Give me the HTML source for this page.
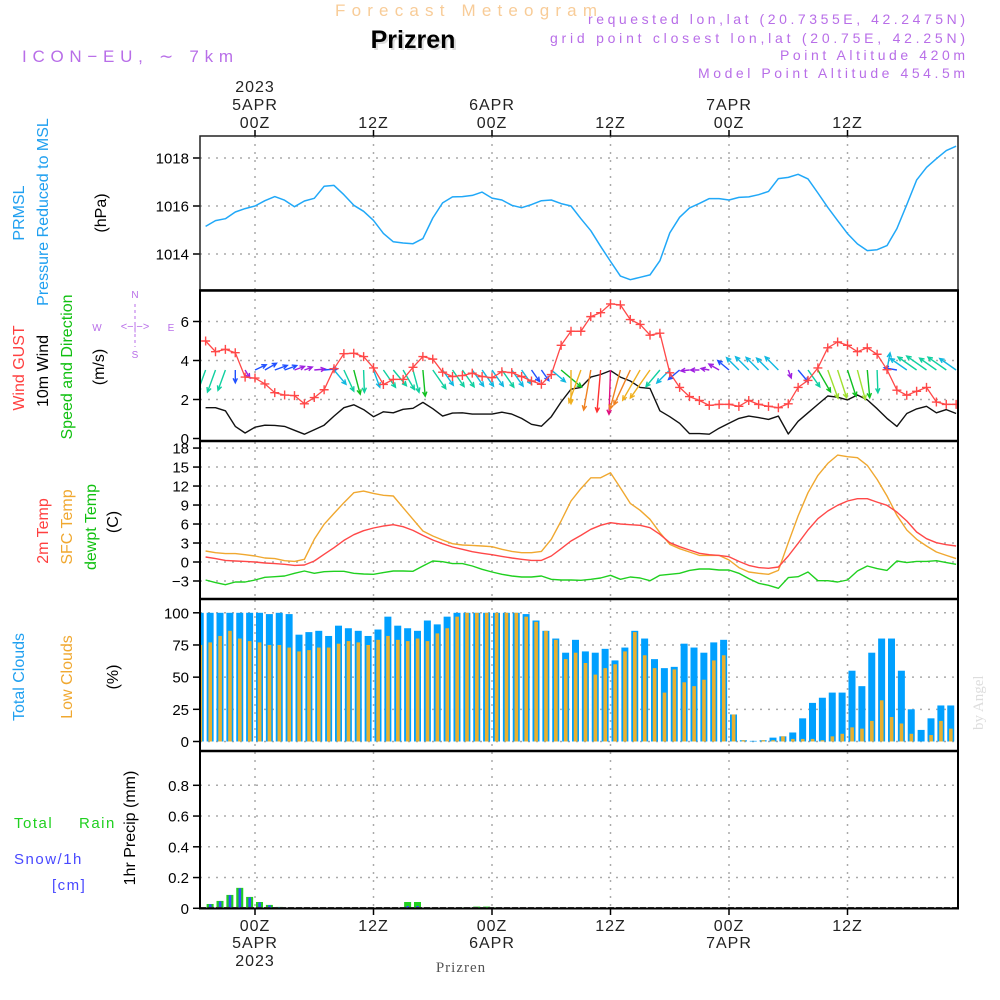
<!DOCTYPE html>
<html><head><meta charset="utf-8">
<style>
html,body{margin:0;padding:0;background:#fff;}
svg{display:block;font-family:"Liberation Sans",sans-serif;}
</style></head>
<body>
<svg id="chart" width="1000" height="1000" viewBox="0 0 1000 1000" xmlns="http://www.w3.org/2000/svg">
<rect x="0" y="0" width="1000" height="1000" fill="#fff"/>
<!-- header -->
<text x="466" y="16" text-anchor="middle" font-size="17" fill="#f8cc98" textLength="262" lengthAdjust="spacing">Forecast Meteogram</text>
<text x="413" y="48" text-anchor="middle" font-size="25" font-weight="bold" fill="#ddd" transform="translate(2,2)">Prizren</text>
<text x="413" y="48" text-anchor="middle" font-size="25" font-weight="bold" fill="#000">Prizren</text>
<text x="22" y="62" font-size="17" fill="#b86ee8" textLength="211" lengthAdjust="spacing">ICON−EU, ∼ 7km</text>
<g font-size="14" fill="#b86ee8" text-anchor="end">
<text x="965" y="24" textLength="377" lengthAdjust="spacing">requested lon,lat (20.7355E, 42.2475N)</text>
<text x="965" y="43" textLength="415" lengthAdjust="spacing">grid point closest lon,lat (20.75E, 42.25N)</text>
<text x="965" y="60" textLength="185" lengthAdjust="spacing">Point Altitude 420m</text>
<text x="965" y="78" textLength="267" lengthAdjust="spacing">Model Point Altitude 454.5m</text>
</g>
<text x="0" y="0" font-size="15" fill="#ddd" font-family="Liberation Serif,serif" transform="translate(983,730) rotate(-90)">by Angel</text>
<!-- left axis titles -->
<g font-size="16" text-anchor="middle">
<text transform="translate(24,213) rotate(-90)" fill="#20a0f0">PRMSL</text>
<text transform="translate(48,212) rotate(-90)" fill="#20a0f0">Pressure Reduced to MSL</text>
<text transform="translate(106,213) rotate(-90)" fill="#000">(hPa)</text>
<text transform="translate(24,368) rotate(-90)"><tspan fill="#ff4040">Wind GUST</tspan></text>
<text transform="translate(48,371) rotate(-90)" fill="#000">10m Wind</text>
<text transform="translate(72,367) rotate(-90)" fill="#10c010">Speed and Direction</text>
<text transform="translate(104,367) rotate(-90)" fill="#000">(m/s)</text>
<text transform="translate(48,531) rotate(-90)" fill="#ff4040">2m Temp</text>
<text transform="translate(72,527) rotate(-90)" fill="#f0a830">SFC Temp</text>
<text transform="translate(96,527) rotate(-90)" fill="#10c010">dewpt Temp</text>
<text transform="translate(118,522) rotate(-90)" fill="#000">(C)</text>
<text transform="translate(24,677) rotate(-90)" fill="#20a0f0">Total Clouds</text>
<text transform="translate(72,677) rotate(-90)" fill="#f0a830">Low Clouds</text>
<text transform="translate(118,677) rotate(-90)" fill="#000">(%)</text>
<text transform="translate(135,828) rotate(-90)" fill="#000">1hr Precip (mm)</text>
</g>
<g font-size="15" letter-spacing="1.5">
<text x="14" y="828" fill="#20d020">Total   <tspan x="79">Rain</tspan></text>
<text x="14" y="864" fill="#4848ff">Snow/1h</text>
<text x="52" y="890" fill="#4848ff">[cm]</text>
</g>
<g fill="#b86ee8" font-size="10" text-anchor="middle">
<text x="135" y="298">N</text><text x="97" y="331">W</text><text x="171" y="331">E</text><text x="135" y="358">S</text>
<text x="135" y="330" font-size="11">&lt;−|−&gt;</text>
<line x1="135" y1="304" x2="135" y2="347" stroke="#b86ee8" stroke-dasharray="3,3"/>
</g>
<g id="plot"></g>
</svg>
<script>
// ---- data (hourly; lines start h=-5, clouds start h=-6) ----
const lineStartHour = -5;
const pressure = [1015.15,1015.39,1015.47,1015.75,1015.89,1016.0,1016.22,1016.39,1016.24,1015.97,1016.21,1016.32,1016.82,1016.86,1016.47,1016.03,1015.78,1015.4,1014.86,1014.51,1014.46,1014.43,1014.64,1015.5,1016.13,1016.38,1016.39,1016.44,1016.58,1016.33,1016.25,1016.03,1015.93,1016.06,1016.22,1016.25,1016.1,1016.0,1015.47,1014.97,1014.32,1013.69,1013.08,1012.93,1013.03,1013.13,1013.72,1014.88,1015.53,1015.92,1016.11,1016.31,1016.31,1016.25,1016.36,1016.38,1016.47,1016.61,1017.14,1017.19,1017.32,1017.13,1016.54,1015.94,1015.39,1014.85,1014.42,1014.14,1014.18,1014.35,1015.06,1016.06,1017.08,1017.61,1017.97,1018.31,1018.49];
const windGust = [5.0,4.45,4.57,4.4,3.15,3.1,2.8,2.35,2.23,2.2,1.78,2.1,2.5,3.58,4.35,4.37,4.2,3.62,2.77,3.03,3.03,3.65,4.2,4.07,3.4,3.18,3.23,3.35,3.18,3.12,3.42,3.38,3.18,2.95,2.78,3.28,4.78,5.5,5.5,6.25,6.45,6.9,6.85,6.1,5.85,5.3,5.4,3.37,2.62,2.15,1.95,1.7,1.75,1.75,1.65,1.95,1.75,1.65,1.58,1.78,2.62,2.98,3.62,4.65,4.95,4.78,4.45,4.65,4.32,3.53,2.48,2.22,2.42,2.62,1.87,1.75,1.75];
const windSpeed = [1.58,1.58,1.42,0.62,0.28,0.58,0.68,0.67,0.62,0.42,0.22,0.45,0.68,1.15,1.58,1.73,1.48,1.12,1.37,1.32,1.5,1.55,1.85,1.53,1.15,1.3,1.32,1.25,1.25,1.25,1.35,1.25,1.03,0.73,0.63,1.12,1.87,2.53,2.62,3.15,3.28,3.48,3.15,2.95,2.62,2.57,1.42,1.12,0.78,0.25,0.25,0.22,0.53,0.78,1.03,1.15,1.07,0.98,1.15,0.23,0.88,1.32,1.75,2.18,2.12,1.98,2.23,1.98,1.53,1.03,0.62,1.28,1.52,1.65,1.32,1.48,1.28];
const windDir = [200,200,200,180,150,65,60,70,70,70,70,85,85,140,155,165,178,160,145,140,150,165,175,145,145,145,145,145,145,145,145,145,145,145,145,130,130,180,200,190,185,182,195,205,210,215,220,225,230,265,270,280,300,310,315,315,315,315,315,160,140,145,150,160,162,162,165,175,178,10,280,305,305,305,305,305,305];
const temp2m = [0.79,0.53,0.26,0.16,0.1,0,-0.16,-0.26,-0.37,-0.53,-0.47,0.16,1.21,2.26,3.42,4.32,4.95,5.37,5.68,5.89,5.58,5.0,4.21,3.47,2.89,2.37,2.0,1.63,1.37,1.16,0.89,0.63,0.42,0.26,0.26,0.95,2.1,3.32,4.2,5.16,5.79,6.21,6.0,5.89,5.79,5.42,4.37,3.05,2.42,1.89,1.37,1.16,1.05,0.84,0.1,-0.53,-0.89,-1.0,-0.79,0.95,2.95,5.05,6.84,8.05,8.95,9.63,10.0,10.0,9.47,8.95,7.89,6.47,4.74,3.68,3.05,2.74,2.53];
const tempSfc = [1.74,1.47,1.32,1.32,1.16,0.95,0.63,0.53,0.21,0.1,0.42,3.58,5.95,7.68,9.37,10.95,11.2,10.84,10.53,10.42,8.58,6.74,4.89,4.1,3.47,2.89,2.68,2.63,2.53,2.42,2.0,1.68,1.47,1.47,1.68,3.58,6.47,9.63,11.6,13.3,13.3,14.1,11.7,9.26,8.16,6.74,4.63,2.79,2.1,1.58,1.05,1.05,1.05,0.32,-0.89,-1.58,-1.79,-1.95,-1.32,3.05,7.26,10.95,13.68,15.58,16.89,16.63,16.47,15.26,13.05,10.42,7.37,5.05,3.58,2.53,1.58,1.05,0.53];
const dewpt = [-2.84,-3.26,-3.58,-3.16,-3.16,-2.84,-2.42,-2.32,-2.21,-1.79,-1.42,-1.79,-1.53,-1.47,-1.47,-1.79,-1.89,-1.95,-1.68,-1.42,-1.42,-1.47,-0.63,0.16,0.05,-0.26,-0.26,-0.63,-1.16,-1.58,-1.95,-2.21,-2.37,-2.37,-2.21,-2.74,-2.84,-2.84,-2.89,-2.74,-2.53,-2.1,-2.74,-2.37,-2.53,-2.95,-2.1,-1.95,-1.79,-1.32,-1.1,-1.1,-1.26,-1.26,-1.79,-2.63,-3.37,-3.68,-4.16,-2.47,-2.32,-1.58,-2.95,-2.95,-3.16,-2.84,-1.42,-0.63,-1.05,-1.32,0.16,-0.1,0.1,0.1,0.21,-0.1,-0.37];
const rainTotal = [0.028,0.048,0.087,0.133,0.074,0.041,0.022,0.009,0.004,0.002,0,0,0,0,0,0,0,0,0,0,0.041,0.041,0,0,0,0,0.007,0.011,0.011,0.006,0,0,0,0,0,0,0,0,0,0,0,0,0,0,0,0,0,0,0,0,0,0,0,0,0,0,0,0,0,0,0,0,0,0,0,0,0,0,0,0,0,0,0,0,0,0,0];
const snowTotal = [0.026,0.045,0.085,0.13,0.07,0.038,0.02,0.007,0.003,0.001,0,0,0,0,0,0,0,0,0,0,0.015,0.015,0,0,0,0,0.003,0.004,0.004,0.002,0,0,0,0,0,0,0,0,0,0,0,0,0,0,0,0,0,0,0,0,0,0,0,0,0,0,0,0,0,0,0,0,0,0,0,0,0,0,0,0,0,0,0,0,0,0,0];
const cloudStartHour = -6;
const cloudTotal = [100,100,100,100,100,100,100,99,100,99,83,85,86,82,90,88,86,82,87,97,90,88,86,94,91,97,100,100,100,100,100,100,100,99,94,86,80,69,79,70,69,72,63,73,86,80,64,57,58,76,73,69,77,79,21,1,0.5,1,3,4,7,18,30,34,38,38,55,43,69,80,80,55,25,9,18,28,28,22];
const cloudLow = [75,77,82,86,80,78,77,75,75,73,70,71,73,73,76,78,77,75,79,82,79,78,80,78,84,88,97,100,100,100,100,100,100,97,93,86,79,64,69,61,52,57,60,70,85,67,57,38,56,46,43,48,63,67,21,1,0,1,1,4,2,2,2,1,4,6,11,10,16,32,19,14,6,0,5,16,10,7];
const pressureTicks = [1014,1016,1018];
const windTicks = [0,2,4,6];
const tempTicks = [-3,0,3,6,9,12,15,18];
const cloudTicks = [0,25,50,75,100];
const precipTicks = [0,0.2,0.4,0.6,0.8];
const timeTickHours = [0,12,24,36,48,60];
const timeTickLabels = ["00Z","12Z","00Z","12Z","00Z","12Z"];
const dateLabels = ["5APR","","6APR","","7APR",""];

// ---- scales ----
const X0=200, X1=958;
const xH = h => 255 + h*9.875;
const yP = v => 206 - (v-1016)*24;
const yW = v => 438.5 - v*19.5;
const yT = v => 562 - v*6.33;
const yC = v => 741.5 - v*1.287;
const yR = v => 908.3 - v*153.75;
const panels = [[136,290],[291,441],[442,599],[600,751],[752,909]];

const NS="http://www.w3.org/2000/svg";
const plot=document.getElementById('plot');
function mk(tag,attrs,parent){const e=document.createElementNS(NS,tag);for(const k in attrs)e.setAttribute(k,attrs[k]);(parent||plot).appendChild(e);return e;}

const defs=mk('defs',{});
const cp=mk('clipPath',{id:'clip'},defs);
mk('rect',{x:X0,y:136,width:X1-X0,height:773},cp);

const grid=mk('g',{stroke:'#aaa','stroke-width':1.5,'stroke-dasharray':'2,6'});


panels.forEach(p=>{timeTickHours.forEach(h=>{mk('line',{x1:xH(h),x2:xH(h),y1:p[0],y2:p[1]},grid);});});
function hgrid(ticks,f){ticks.forEach(t=>{mk('line',{x1:X0,x2:X1,y1:f(t),y2:f(t)},grid);});}
hgrid(pressureTicks,yP);hgrid(windTicks.slice(1),yW);hgrid(tempTicks,yT);hgrid(cloudTicks,yC);hgrid(precipTicks.slice(1),yR);

const tl=mk('g',{'font-size':15,'text-anchor':'end',fill:'#000'});


function yl(ticks,f,fmt){ticks.forEach(t=>{const y=f(t);mk('line',{x1:193,x2:200,y1:y,y2:y,stroke:'#000','stroke-width':1.5},tl);const e=mk('text',{x:189,y:y+5.5},tl);e.textContent=fmt?fmt(t):String(t);});}
yl(pressureTicks,yP);yl(windTicks,yW);yl(tempTicks,yT,t=>t<0?'−'+(-t):t);yl(cloudTicks,yC);yl(precipTicks,yR,t=>t===0?'0':t.toFixed(1));

const content=mk('g',{'clip-path':'url(#clip)'});

const cg=mk('g',{},content);


cloudTotal.forEach((v,i)=>{const h=cloudStartHour+i;const x=xH(h)+1;
  const b=mk('rect',{x:x,y:yC(v),width:7,height:yC(0)-yC(v),fill:'#00a0ff'},cg);
  
  
  const l=mk('rect',{x:x+1.8,y:yC(cloudLow[i]),width:3.6,height:yC(0)-yC(cloudLow[i]),fill:'#e8b030'},cg);
  
  
});

const pg=mk('g',{},content);


rainTotal.forEach((v,i)=>{const h=lineStartHour+i;const x=xH(h)+1;
  if(v>0){const r=mk('rect',{x:x,y:yR(v),width:7,height:yR(0)-yR(v),fill:'#20d020'},pg);
  
  }
  const s=snowTotal[i];
  if(s>0){const sb=mk('rect',{x:x+2.3,y:yR(s),width:2.6,height:yR(0)-yR(s),fill:'#3050ff'},pg);
  
  }
});
mk('line',{x1:X0,x2:X1,y1:907.5,y2:907.5,stroke:'#444','stroke-width':1,'stroke-dasharray':'6,2'},content);

function line(arr,f,color,name,w){const pts=arr.map((v,i)=>xH(lineStartHour+i).toFixed(1)+','+f(v).toFixed(1)).join(' ');
  const p=mk('polyline',{points:pts,fill:'none',stroke:color,'stroke-width':w||1.4,'stroke-linejoin':'round'},content);
  
  return p;}
line(pressure,yP,'#20a8f8','pressure-line',1.5);
line(windSpeed,yW,'#111','wind-speed-line',1.4);

function spdColor(s){if(s<0.55)return '#a020e0';if(s<0.95)return '#2050ff';if(s<1.3)return '#10b8e0';if(s<1.7)return '#10d0a0';if(s<2.0)return '#10c020';if(s<2.5)return '#a0e030';if(s<2.9)return '#f0b020';if(s<3.2)return '#f08020';if(s<3.4)return '#ff3030';return '#e01080';}
const ag=mk('g',{'stroke-width':1.4,fill:'none'},content);


windDir.forEach((d,i)=>{const s=windSpeed[i];const h=lineStartHour+i;const x=xH(h);const y=370;const L=6+11*s;const a=d*Math.PI/180;
  const dx=Math.sin(a)*L, dy=-Math.cos(a)*L;const c=spdColor(s);
  const x2=x+dx,y2=y+dy;const hl=5;
  const a1=a+Math.PI-0.45,a2=a+Math.PI+0.45;
  const path=`M${x.toFixed(1)},${y} L${x2.toFixed(1)},${y2.toFixed(1)} M${(x2+Math.sin(a1)*hl).toFixed(1)},${(y2-Math.cos(a1)*hl).toFixed(1)} L${x2.toFixed(1)},${y2.toFixed(1)} L${(x2+Math.sin(a2)*hl).toFixed(1)},${(y2-Math.cos(a2)*hl).toFixed(1)}`;
  const e=mk('path',{d:path,stroke:c},ag);
  
  
});

line(windGust,yW,'#ff4848','wind-gust-line',1.3);
const gm=mk('g',{stroke:'#ff4848','stroke-width':1.4},content);


windGust.forEach((v,i)=>{const x=xH(lineStartHour+i),y=yW(v);mk('path',{d:`M${x-4.5},${y}H${x+4.5}M${x},${y-4.5}V${y+4.5}`},gm);});

line(dewpt,yT,'#20d020','dewpoint-line',1.4);
line(tempSfc,yT,'#f0a830','sfc-temp-line',1.4);
line(temp2m,yT,'#ff4848','temp-2m-line',1.4);

const fr=mk('g',{fill:'none',stroke:'#000'});


mk('rect',{x:X0,y:136,width:X1-X0,height:154,'stroke-width':1.5,stroke:'#222'},fr);
[290.5,441,599,751].forEach(y=>mk('line',{x1:X0-1,x2:X1+1,y1:y,y2:y,'stroke-width':2.5},fr));
mk('line',{x1:X0,x2:X0,y1:290,y2:909,'stroke-width':2},fr);
mk('line',{x1:X1,x2:X1,y1:290,y2:909,'stroke-width':2},fr);
mk('line',{x1:X0-1,x2:X1+1,y1:908.5,y2:908.5,'stroke-width':2},fr);

const ta=mk('g',{'font-size':16,'text-anchor':'middle',fill:'#222','letter-spacing':1});


timeTickHours.forEach((h,i)=>{const x=xH(h);
  mk('line',{x1:x,x2:x,y1:130,y2:136,stroke:'#000','stroke-width':1.5},ta);
  mk('line',{x1:x,x2:x,y1:909,y2:915,stroke:'#000','stroke-width':1.5},ta);
  let t=mk('text',{x:x,y:128},ta);t.textContent=timeTickLabels[i];
  t=mk('text',{x:x,y:931},ta);t.textContent=timeTickLabels[i];
  if(dateLabels[i]){t=mk('text',{x:x,y:110},ta);t.textContent=dateLabels[i];
    t=mk('text',{x:x,y:948},ta);t.textContent=dateLabels[i];}
});
let t=mk('text',{x:xH(0),y:92},ta);t.textContent='2023';
t=mk('text',{x:xH(0),y:966},ta);t.textContent='2023';
t=mk('text',{x:461,y:972,'font-family':'Liberation Serif,serif','font-size':15,fill:'#555'},ta);t.textContent='Prizren';


</script>
</body></html>
